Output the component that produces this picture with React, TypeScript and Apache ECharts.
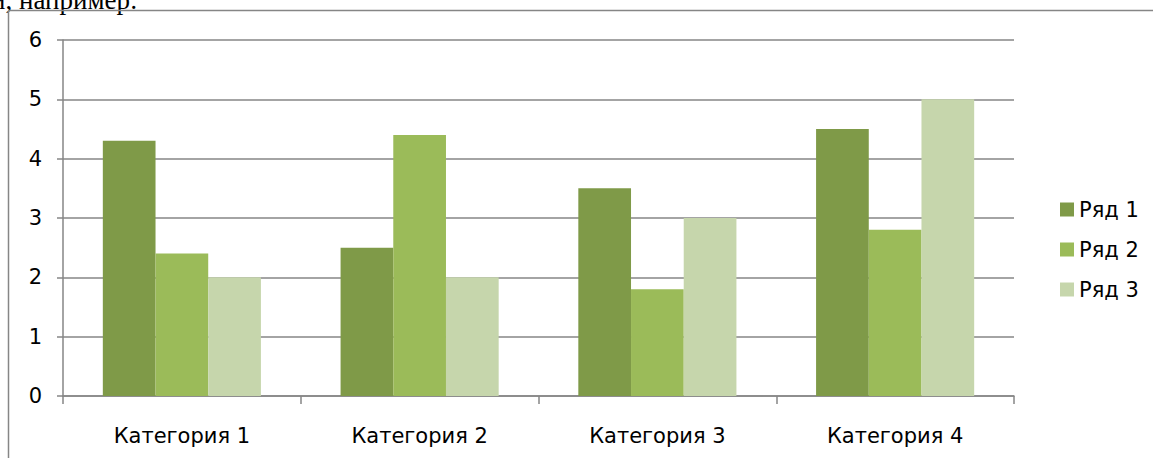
import React, { useEffect, useRef } from "react";
import * as echarts from "echarts";

const categories = ["Категория 1", "Категория 2", "Категория 3", "Категория 4"];
const seriesNames = ["Ряд 1", "Ряд 2", "Ряд 3"];
const series1 = [4.3, 2.5, 3.5, 4.5];
const series2 = [2.4, 4.4, 1.8, 2.8];
const series3 = [2.0, 2.0, 3.0, 5.0];
const colors = ["#7F9A48", "#9BBB59", "#C6D6AC"];

const FONT = "'DejaVu Sans', sans-serif";

export default function App() {
  const ref = useRef<HTMLDivElement>(null);
  useEffect(() => {
    if (!ref.current) return;
    const chart = echarts.init(ref.current, undefined, { renderer: "svg" });
    const data = [series1, series2, series3];
    chart.setOption({
      animation: false,
      backgroundColor: "#ffffff",
      textStyle: { fontFamily: FONT },
      grid: { left: 63, right: 139, top: 40, bottom: 62 },
      legend: {
        orient: "vertical",
        left: 1055,
        top: 194,
        itemWidth: 14,
        itemHeight: 14,
        itemGap: 19,
        icon: "rect",
        textStyle: { fontFamily: FONT, fontSize: 21, color: "#000" },
        data: seriesNames,
      },
      xAxis: {
        type: "category",
        data: categories,
        boundaryGap: true,
        axisLine: { lineStyle: { color: "#868686", width: 1.5 } },
        axisTick: { show: true, length: 8, lineStyle: { color: "#868686", width: 1.5 } },
        axisLabel: { color: "#000", fontSize: 21, fontFamily: FONT, margin: 29 },
      },
      yAxis: {
        type: "value",
        min: 0,
        max: 6,
        interval: 1,
        axisLine: { show: true, lineStyle: { color: "#868686", width: 1.5 } },
        axisTick: { show: true, length: 6, lineStyle: { color: "#868686", width: 1.5 } },
        splitLine: { lineStyle: { color: "#868686", width: 1.5 } },
        axisLabel: { color: "#000", fontSize: 21, fontFamily: FONT, margin: 21 },
      },
      series: seriesNames.map((name, i) => ({
        name,
        type: "bar",
        data: data[i],
        barGap: "0%",
        barCategoryGap: "33.5%",
        itemStyle: { color: colors[i] },
      })),
      graphic: [
        {
          type: "line",
          shape: { x1: 8.5, y1: 10.5, x2: 1153, y2: 10.5 },
          style: { stroke: "#868686", lineWidth: 1.5 },
          z: 100,
        },
        {
          type: "line",
          shape: { x1: 8.5, y1: 10.5, x2: 8.5, y2: 458 },
          style: { stroke: "#868686", lineWidth: 1.5 },
          z: 100,
        },
        {
          type: "text",
          x: -9,
          y: 13,
          style: {
            text: "и, например:",
            font: "27px 'Liberation Serif', serif",
            fill: "#000",
            verticalAlign: "bottom",
          },
        },
      ],
    });
    return () => chart.dispose();
  }, []);
  return (
    <div
      ref={ref}
      style={{ position: "fixed", left: 0, top: 0, width: 1153, height: 458 }}
    />
  );
}
